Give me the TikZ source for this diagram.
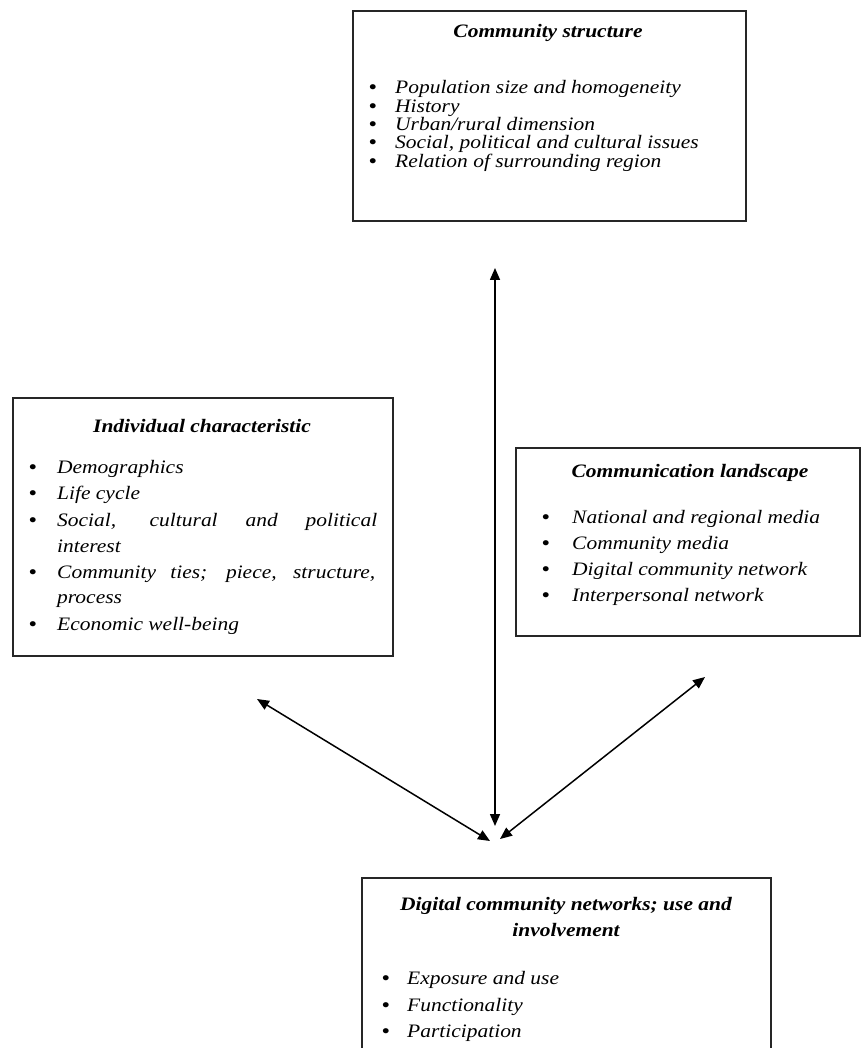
\documentclass[tikz,border=0pt]{standalone}
\usepackage{fontspec}
\setmainfont{Liberation Serif}[FakeStretch=1.13]
\usetikzlibrary{arrows.meta}
\newcommand{\blt}[1]{\makebox[#1][l]{\bfseries\upshape •}}
\begin{document}
\begin{tikzpicture}[x=1pt,y=-1pt,
  frame/.style={draw=black!85, line width=1.6pt, anchor=north west, inner sep=0pt},
  ttl/.style={anchor=base, inner sep=0pt, font=\fontsize{19}{23}\selectfont\bfseries\itshape},
  itm/.style={anchor=base west, inner sep=0pt, font=\fontsize{19}{23}\selectfont\itshape},
  link/.style={line width=1.5pt, {Triangle[length=12pt,width=10pt]}-{Triangle[length=12pt,width=10pt]}}]
\useasboundingbox (0,0) rectangle (862,1048);
\clip (0,0) rectangle (862,1048);
\fill[white] (0,0) rectangle (862,1048);

% Community structure
\node[frame, minimum width=393pt, minimum height=210pt] (cs) at (352,10) {};
\node[ttl] (csT) at (548,38) {Community structure};
\node[itm] (cs1) at (369,94) {\blt{26pt}Population size and homogeneity};
\node[itm] (cs2) at (369,113) {\blt{26pt}History};
\node[itm] (cs3) at (369,131) {\blt{26pt}Urban/rural dimension};
\node[itm] (cs4) at (369,149) {\blt{26pt}Social, political and cultural issues};
\node[itm] (cs5) at (369,168) {\blt{26pt}Relation of surrounding region};

% Individual characteristic
\node[frame, minimum width=380pt, minimum height=258pt] (ic) at (12,397) {};
\node[ttl] (icT) at (202,432) {Individual characteristic};
\node[itm] (ic1) at (29,473) {\blt{28pt}Demographics};
\node[itm] (ic2) at (29,499) {\blt{28pt}Life cycle};
\node[itm] (ic3) at (29,526) {\blt{28pt}\makebox[320pt][s]{Social, cultural and political}};
\node[itm] (ic3b) at (57,552) {interest};
\node[itm] (ic4) at (29,578) {\blt{28pt}\makebox[318pt][s]{Community ties; piece, structure,}};
\node[itm] (ic4b) at (57,603) {process};
\node[itm] (ic5) at (29,630) {\blt{28pt}Economic well-being};

% Communication landscape
\node[frame, minimum width=344pt, minimum height=188pt] (cl) at (515,447) {};
\node[ttl] (clT) at (690,477) {Communication landscape};
\node[itm] (cl1) at (542,523) {\blt{30pt}National and regional media};
\node[itm] (cl2) at (542,549) {\blt{30pt}Community media};
\node[itm] (cl3) at (542,575) {\blt{30pt}Digital community network};
\node[itm] (cl4) at (542,601) {\blt{30pt}Interpersonal network};

% Digital community networks
\node[frame, minimum width=409pt, minimum height=220pt] (dc) at (361,877) {};
\node[ttl] (dcT1) at (566,910) {Digital community networks; use and};
\node[ttl] (dcT2) at (566,936) {involvement};
\node[itm] (dc1) at (382,984) {\blt{25pt}Exposure and use};
\node[itm] (dc2) at (382,1011) {\blt{25pt}Functionality};
\node[itm] (dc3) at (382,1037) {\blt{25pt}Participation};

% arrows
\coordinate (csEnd) at (495,268);
\coordinate (hubV) at (495,826);
\coordinate (icEnd) at (257,699);
\coordinate (hubL) at (490,841);
\coordinate (clEnd) at (705,677);
\coordinate (hubR) at (500,839);
\draw[link] (csEnd) -- (hubV);
\draw[link] (icEnd) -- (hubL);
\draw[link] (clEnd) -- (hubR);
\end{tikzpicture}
\end{document}
